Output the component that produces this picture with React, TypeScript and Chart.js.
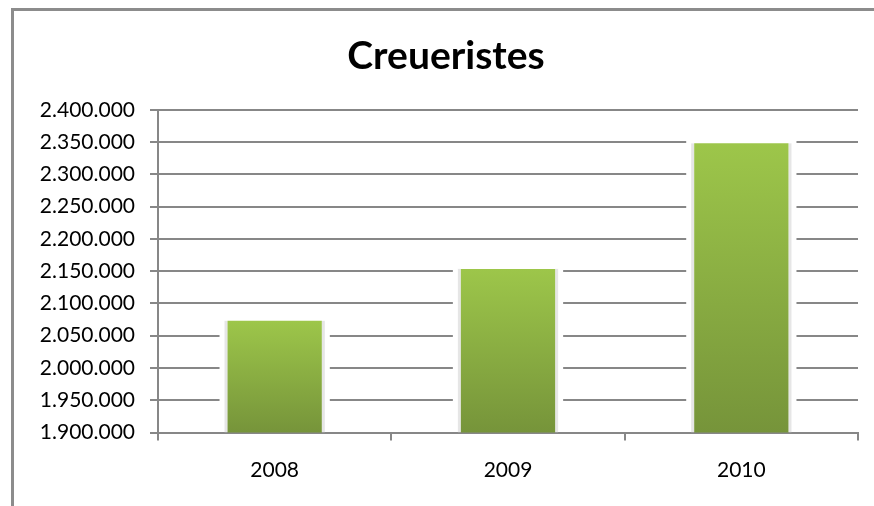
import React, { useEffect, useRef } from "react";
import { Chart, registerables } from "chart.js";

Chart.register(...registerables);

const TITLE = "Creueristes";
const categories = ["2008", "2009", "2010"];
const passengers = [2073000, 2153500, 2348000];
const yMin = 1900000;
const yMax = 2400000;
const yStep = 50000;

const GRID = "#878787";
const FONT = "Lato";

const fmt = (v: number) => String(Math.round(v)).replace(/\B(?=(\d{3})+(?!\d))/g, ".");

const haloPlugin = {
  id: "halo",
  beforeDatasetsDraw(chart: any) {
    const ctx = chart.ctx;
    const meta = chart.getDatasetMeta(0);
    const bottom = chart.chartArea.bottom;
    ctx.save();
    meta.data.forEach((el: any) => {
      const { x, y, width } = el.getProps(["x", "y", "width"], true);
      const l = x - width / 2;
      const r = x + width / 2;
      ctx.fillStyle = "#ffffff";
      ctx.fillRect(l - 8, y - 8, width + 16, bottom - (y - 8) - 1);
      ctx.fillStyle = "rgba(205,205,205,0.5)";
      ctx.fillRect(l - 3, y, 3, bottom - y);
      ctx.fillRect(r, y, 3, bottom - y);
    });
    ctx.restore();
  },
};

export default function App() {
  const ref = useRef<HTMLCanvasElement | null>(null);
  useEffect(() => {
    if (!ref.current) return;
    const chart = new Chart(ref.current, {
      type: "bar",
      data: {
        labels: categories,
        datasets: [
          {
            data: passengers,
            barPercentage: 0.404,
            categoryPercentage: 1,
            borderWidth: 0,
            backgroundColor: (c: any) => {
              const ch = c.chart;
              const area = ch.chartArea;
              if (!area || c.raw == null) return "#8bb042";
              const top = ch.scales.y.getPixelForValue(c.raw);
              const g = ch.ctx.createLinearGradient(0, top, 0, area.bottom);
              g.addColorStop(0, "#9dc64a");
              g.addColorStop(1, "#76943a");
              return g;
            },
          },
        ],
      },
      options: {
        responsive: false,
        animation: false,
        devicePixelRatio: 1,
        layout: { padding: { top: 0, left: 34, right: 16, bottom: 0 } },
        plugins: {
          legend: { display: false },
          tooltip: { enabled: false },
          title: {
            display: true,
            text: TITLE,
            color: "#000000",
            font: { family: FONT, size: 39, weight: "bold", lineHeight: 1.2 },
            padding: { top: 33, bottom: 30 },
          },
        },
        scales: {
          x: {
            afterFit: (s: any) => {
              s.height = 73.5;
            },
            border: { display: true, color: GRID, width: 2 },
            grid: {
              drawOnChartArea: false,
              drawTicks: true,
              tickLength: 8,
              color: GRID,
              lineWidth: 2,
              offset: true,
            },
            ticks: {
              color: "#000000",
              font: { family: FONT, size: 21 },
              padding: 17,
            },
          },
          y: {
            min: yMin,
            max: yMax,
            afterFit: (s: any) => {
              s.width = 124;
            },
            border: { display: true, color: GRID, width: 2 },
            grid: {
              drawOnChartArea: true,
              drawTicks: true,
              tickLength: 8,
              color: GRID,
              lineWidth: 2,
            },
            ticks: {
              stepSize: yStep,
              color: "#000000",
              font: { family: FONT, size: 21 },
              padding: 15,
              callback: (v: any) => fmt(Number(v)),
            },
          },
        },
      },
      plugins: [haloPlugin],
    } as any);
    return () => chart.destroy();
  }, []);

  return (
    <div
      style={{
        position: "fixed",
        left: 0,
        top: 0,
        width: 874,
        height: 506,
        overflow: "hidden",
        background: "#ffffff",
      }}
    >
      <div
        style={{
          position: "absolute",
          left: 11,
          top: 8,
          width: 1000,
          height: 1000,
          borderLeft: "3px solid #8c8c8c",
          borderTop: "3px solid #8c8c8c",
        }}
      />
      <canvas
        ref={ref}
        width={874}
        height={506}
        style={{ position: "absolute", left: 0, top: 0, width: 874, height: 506 }}
      />
    </div>
  );
}
